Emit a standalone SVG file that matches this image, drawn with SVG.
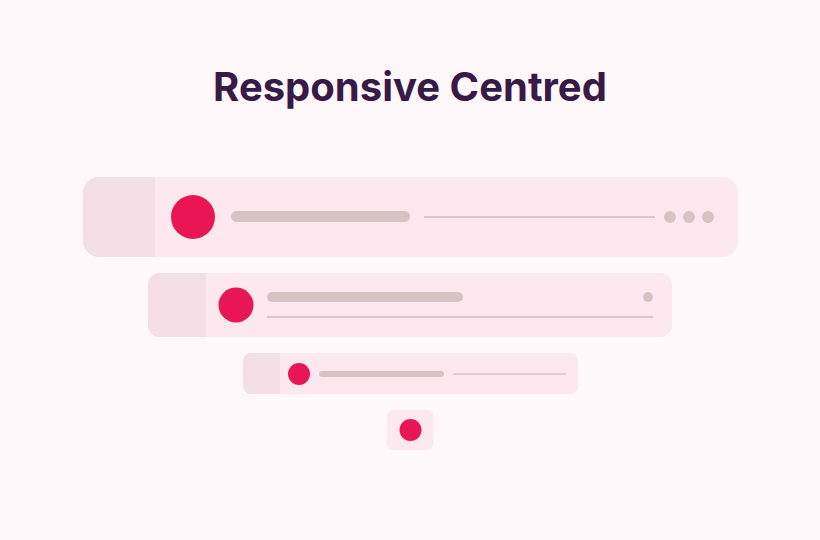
<svg xmlns="http://www.w3.org/2000/svg" width="820" height="540" viewBox="0 0 820 540">
<style>
.card{fill:#fde8ef}
.side{fill:#f3dfe5}
.av{fill:#e91655}
.bar{fill:#d6c4c5}
.ln{stroke:#dcc6c9;stroke-width:2;fill:none}
.dot{fill:#d6c4c5}
.title{font-family:Inter,"Liberation Sans",sans-serif;font-weight:700;font-size:40px;fill:#381a46}
</style>
<defs>
<clipPath id="c1"><rect x="83" y="177" width="655" height="80" rx="16"/></clipPath>
<clipPath id="c2"><rect x="148" y="273" width="524" height="64" rx="12"/></clipPath>
<clipPath id="c3"><rect x="243" y="353" width="335" height="41" rx="8"/></clipPath>
</defs>
<rect width="820" height="540" fill="#fff8fa"/>
<text class="title" x="410" y="101" text-anchor="middle">Responsive Centred</text>
<g id="card-large">
<rect class="card" x="83" y="177" width="655" height="80" rx="16"/>
<rect class="side" x="83" y="177" width="72" height="80" clip-path="url(#c1)"/>
<circle class="av" cx="193" cy="217" r="22"/>
<rect class="bar" x="231" y="211" width="179" height="11" rx="5.5"/>
<line class="ln" x1="424" y1="217" x2="655" y2="217"/>
<circle class="dot" cx="670" cy="217" r="6"/>
<circle class="dot" cx="689" cy="217" r="6"/>
<circle class="dot" cx="708" cy="217" r="6"/>
</g>
<g id="card-medium">
<rect class="card" x="148" y="273" width="524" height="64" rx="12"/>
<rect class="side" x="148" y="273" width="58" height="64" clip-path="url(#c2)"/>
<circle class="av" cx="236" cy="305" r="17.5"/>
<rect class="bar" x="267" y="292" width="196" height="10" rx="5"/>
<line class="ln" x1="267" y1="317" x2="653" y2="317"/>
<circle class="dot" cx="648" cy="297" r="5"/>
</g>
<g id="card-small">
<rect class="card" x="243" y="353" width="335" height="41" rx="8"/>
<rect class="side" x="243" y="353" width="37" height="41" clip-path="url(#c3)"/>
<circle class="av" cx="299" cy="374" r="11"/>
<rect class="bar" x="319" y="371" width="125" height="6" rx="3"/>
<line class="ln" x1="453" y1="374" x2="566" y2="374" style="stroke-width:1.5"/>
</g>
<g id="card-tiny">
<rect class="card" x="387" y="410" width="46" height="40" rx="6"/>
<circle class="av" cx="410.5" cy="430" r="11"/>
</g>
</svg>
